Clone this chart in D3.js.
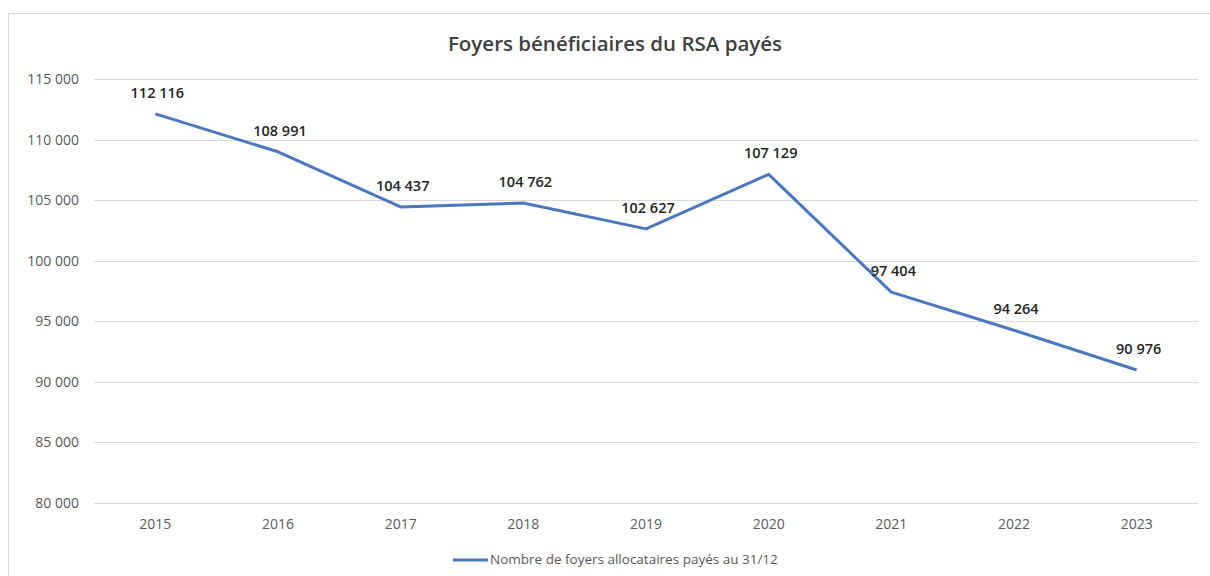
<!DOCTYPE html>
<html>
<head>
<meta charset="utf-8">
<script src="https://cdn.jsdelivr.net/npm/d3@7"></script>
<style>
  body { margin: 0; background: #fff; }
  text { font-family: "Open Sans", Lato, sans-serif; }
</style>
</head>
<body>
<div id="chart"></div>
<script>
const years = ['2015', '2016', '2017', '2018', '2019', '2020', '2021', '2022', '2023'];
const foyers = [112116, 108991, 104437, 104762, 102627, 107129, 97404, 94264, 90976];
const yTicks = [80000, 85000, 90000, 95000, 100000, 105000, 110000, 115000];
const title = 'Foyers bénéficiaires du RSA payés';
const seriesName = 'Nombre de foyers allocataires payés au 31/12';

const width = 1210, height = 576;
const margin = { top: 79, right: 12, bottom: 73, left: 94 };

const svg = d3.select('#chart').append('svg')
    .attr('width', width)
    .attr('height', height);

// cadre du graphique
svg.append('rect')
    .attr('x', 8.5).attr('y', 13.5)
    .attr('width', width + 10).attr('height', height + 10)
    .attr('fill', '#fff')
    .attr('stroke', '#d9d9d9');

const fmt = v => d3.format(',')(v).replace(/,/g, ' ');

const x = d3.scaleBand()
    .domain(years)
    .range([margin.left, width - margin.right]);

const y = d3.scaleLinear()
    .domain([80000, 115000])
    .range([height - margin.bottom, margin.top]);

// grille
svg.append('g')
    .selectAll('line')
    .data(yTicks)
    .join('line')
      .attr('x1', margin.left)
      .attr('x2', width - margin.right)
      .attr('y1', d => Math.round(y(d)) + 0.5)
      .attr('y2', d => Math.round(y(d)) + 0.5)
      .attr('stroke', '#d9d9d9')
      .attr('stroke-width', 1);

// axe y
const yAxis = svg.append('g')
    .attr('transform', `translate(${margin.left},0)`)
    .call(d3.axisLeft(y).tickValues(yTicks).tickFormat(fmt).tickSize(0).tickPadding(15));
yAxis.select('.domain').remove();
yAxis.selectAll('text')
    .attr('fill', '#595959')
    .style('font-size', '14px')
    .style('font-weight', 500);

// axe x
const xAxis = svg.append('g')
    .attr('transform', `translate(0,${height - margin.bottom})`)
    .call(d3.axisBottom(x).tickSize(0).tickPadding(16));
xAxis.select('.domain').remove();
xAxis.selectAll('text')
    .attr('fill', '#595959')
    .style('font-size', '14px')
    .style('font-weight', 500);

// courbe
const line = d3.line()
    .x((d, i) => x(years[i]) + x.bandwidth() / 2)
    .y(d => y(d));

svg.append('path')
    .datum(foyers)
    .attr('fill', 'none')
    .attr('stroke', '#4a78c0')
    .attr('stroke-width', 3)
    .attr('stroke-linejoin', 'round')
    .attr('d', line);

// étiquettes
svg.append('g')
    .selectAll('text')
    .data(foyers)
    .join('text')
      .attr('x', (d, i) => x(years[i]) + x.bandwidth() / 2 + 2)
      .attr('y', d => y(d) - 16)
      .attr('text-anchor', 'middle')
      .attr('fill', '#262626')
      .style('font-size', '14.5px')
      .style('font-weight', 600)
      .text(fmt);

// titre
svg.append('text')
    .attr('x', 615)
    .attr('y', 51)
    .attr('text-anchor', 'middle')
    .attr('fill', '#404040')
    .style('font-size', '20.5px')
    .style('font-weight', 600)
    .text(title);

// légende
svg.append('line')
    .attr('x1', 453).attr('x2', 488)
    .attr('y1', 560).attr('y2', 560)
    .attr('stroke', '#4a78c0')
    .attr('stroke-width', 3);

svg.append('text')
    .attr('x', 490)
    .attr('y', 564)
    .attr('fill', '#595959')
    .style('font-size', '13.5px')
    .text(seriesName);
</script>
</body>
</html>
